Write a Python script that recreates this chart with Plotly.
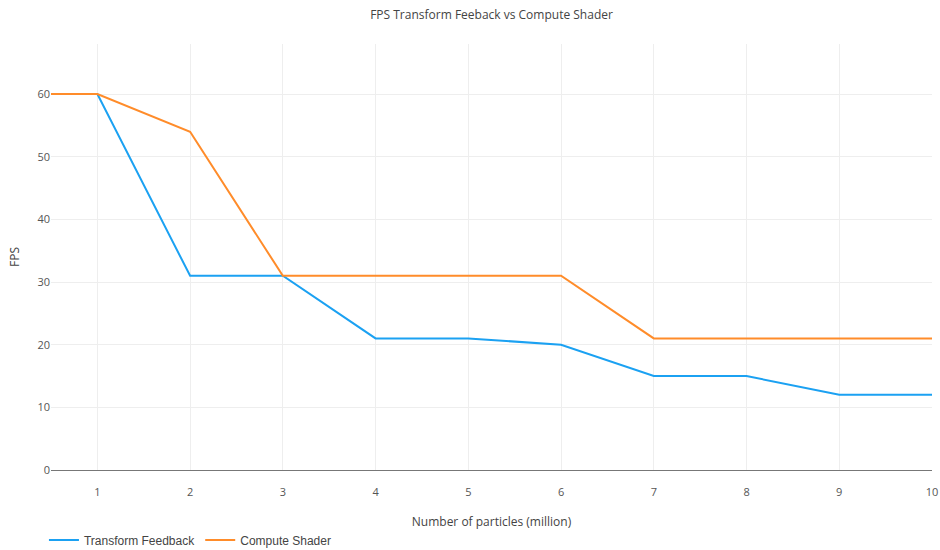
import plotly.graph_objects as go

x_vals = [0.5, 1, 2, 3, 4, 5, 6, 7, 8, 9, 10]
transform_feedback = [60, 60, 31, 31, 21, 21, 20, 15, 15, 12, 12]
compute_shader = [60, 60, 54, 31, 31, 31, 31, 21, 21, 21, 21]

fig = go.Figure()
fig.add_trace(go.Scatter(x=x_vals, y=transform_feedback, mode="lines", name="Transform Feedback",
                         line=dict(color="#1ba1f2", width=2)))
fig.add_trace(go.Scatter(x=x_vals, y=compute_shader, mode="lines", name="Compute Shader",
                         line=dict(color="#ff8c2a", width=2)))

fig.update_layout(
    width=940, height=550,
    paper_bgcolor="white", plot_bgcolor="white",
    font=dict(family="Open Sans", size=12, color="#444"),
    title=dict(text="FPS Transform Feeback vs Compute Shader", x=0.5, xanchor="center",
               xref="paper", y=0.973, yref="container", yanchor="middle", automargin=False,
               font=dict(size=12, color="#444")),
    margin=dict(l=51, r=8, t=44, b=80, autoexpand=False),
    showlegend=True,
    legend=dict(orientation="h", x=-0.008, xanchor="left", y=-0.13, yanchor="top",
                font=dict(family="Liberation Sans, Arial", size=12, color="#444")),
    xaxis=dict(range=[0.5, 10], tickmode="linear", tick0=1, dtick=1, automargin=False,
               showgrid=True, gridcolor="#eee", zeroline=False, showline=False,
               ticks="", ticklabelstandoff=14, ticklabeloverflow="allow",
               tickfont=dict(size=11, color="#555"),
               title=dict(text="Number of particles (million)", standoff=19,
                          font=dict(size=12, color="#444"))),
    yaxis=dict(range=[0, 68], tickmode="linear", tick0=0, dtick=10, automargin=False,
               showgrid=True, gridcolor="#eee", zeroline=True, zerolinecolor="#777",
               zerolinewidth=1, showline=False, ticks="", tickfont=dict(size=11, color="#555"),
               title=dict(text="FPS", font=dict(size=12, color="#444"))),
)

fig.write_html("out.html",
               config={"displayModeBar": False},
               post_script="document.body.style.margin='0';document.body.style.overflow='hidden';")
